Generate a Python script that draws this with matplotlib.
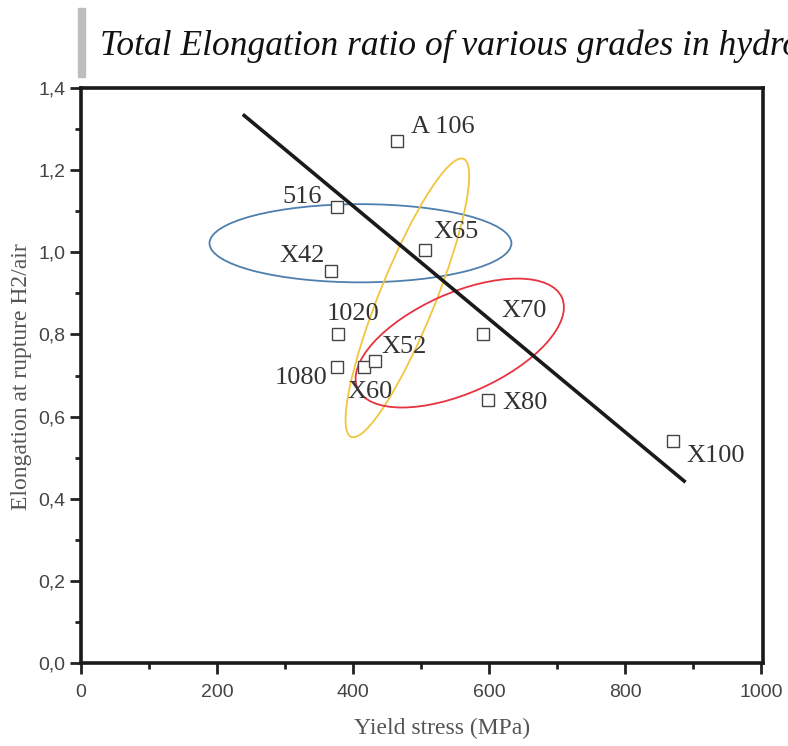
import matplotlib
matplotlib.use("Agg")
import matplotlib.pyplot as plt
from matplotlib.patches import Ellipse, Rectangle
from matplotlib.ticker import MultipleLocator, FuncFormatter
from matplotlib.transforms import Affine2D

# steel grades: yield stress (MPa) vs elongation ratio H2/air
grades = ["A 106", "516", "X42", "X65", "1020", "1080", "X60", "X52", "X70", "X80", "X100"]
yield_stress = [465, 376, 368, 506, 378, 376, 416, 432, 591, 598, 871]
elong_ratio = [1.27, 1.11, 0.955, 1.005, 0.80, 0.72, 0.72, 0.735, 0.80, 0.64, 0.54]

# label placement (offset in pixels, alignment)
label_dx = [14, -15, -6, 8, 15, -9, -16, 7, 19, 15, 13]
label_dy = [14, 10, 15, 18, 20, -11, -25, 14, 23, -3, -15]
label_ha = ["left", "right", "right", "left", "center", "right", "left", "left", "left", "left", "left"]

# trend line end points
trend_x = [240, 887]
trend_y = [1.333, 0.443]

# grouping ellipses: centre (MPa, ratio), width, height (in MPa-equivalent units), angle
ell_colors = ["#4f7fae", "#f2c53d", "#e8323f"]
ell_cx = [411, 480, 557]
ell_cy = [1.022, 0.889, 0.779]
ell_w = [444, 441, 329]
ell_h = [115, 82, 147]
ell_ang = [0, 68, 24]

fig = plt.figure(figsize=(7.88, 7.46), dpi=100)
ax = fig.add_axes([81 / 788, 83 / 746, 682 / 788, 575 / 746])

serif = "Liberation Serif"
sans = "Liberation Sans"

ax.plot(yield_stress, elong_ratio, linestyle="none", marker="s", markersize=8,
        markerfacecolor="white", markeredgecolor="#444444", markeredgewidth=1.0, zorder=4)

for name, x, y, dx, dy, ha in zip(grades, yield_stress, elong_ratio, label_dx, label_dy, label_ha):
    ax.annotate(name, (x, y), xytext=(dx, dy), textcoords="offset pixels",
                ha=ha, va="center", fontsize=19, family=serif, color="#333333", zorder=5)

ax.plot(trend_x, trend_y, color="#1a1a1a", linewidth=2.6, zorder=3)

# y stretched so ellipses can be drawn in screen-like proportions
k = (575 / 1.4) / (680 / 1000)
ell_tr = Affine2D().scale(1, 1 / k) + ax.transData
for c, cx, cy, w, h, a in zip(ell_colors, ell_cx, ell_cy, ell_w, ell_h, ell_ang):
    ax.add_patch(Ellipse((cx, cy * k), w, h, angle=a, fill=False, edgecolor=c,
                         linewidth=1.3, transform=ell_tr, zorder=2))

ax.set_xlim(0, 1003)
ax.set_ylim(0, 1.4)
ax.xaxis.set_major_locator(MultipleLocator(200))
ax.xaxis.set_minor_locator(MultipleLocator(100))
ax.yaxis.set_major_locator(MultipleLocator(0.2))
ax.yaxis.set_minor_locator(MultipleLocator(0.1))
ax.xaxis.set_major_formatter(FuncFormatter(lambda v, p: f"{v:.0f}"))
ax.yaxis.set_major_formatter(FuncFormatter(lambda v, p: f"{v:.1f}".replace(".", ",")))

ax.tick_params(which="major", direction="out", length=8, width=2, color="#222222",
               labelsize=14, labelcolor="#444444", top=False, right=False)
ax.tick_params(which="minor", direction="out", length=4, width=2, color="#222222",
               top=False, right=False)
ax.tick_params(axis="x", pad=7)
ax.tick_params(axis="y", pad=3)
for lab in ax.get_xticklabels() + ax.get_yticklabels():
    lab.set_family(sans)
for s in ax.spines.values():
    s.set_linewidth(2.6)
    s.set_color("#1a1a1a")

fig.text(442 / 788, 1 - 728 / 746, "Yield stress (MPa)", ha="center", va="center",
         fontsize=17, family=serif, color="#555555")
fig.text(22 / 788, 1 - 377 / 746, "Elongation at rupture H2/air", ha="center", va="center",
         rotation=90, fontsize=17, family=serif, color="#555555")

# heading with grey side bar (runs past the right edge, as in the source)
fig.patches.append(Rectangle((78 / 788, 1 - 77 / 746), 7 / 788, 69 / 746,
                             transform=fig.transFigure, color="#bdbdbd", zorder=1))
fig.text(100 / 788, 1 - 55 / 746, "Total Elongation ratio of various grades in hydrogen",
         ha="left", va="baseline", fontsize=25.5, family=serif, style="italic", color="#111111")

fig.savefig("out.png", dpi=100)
